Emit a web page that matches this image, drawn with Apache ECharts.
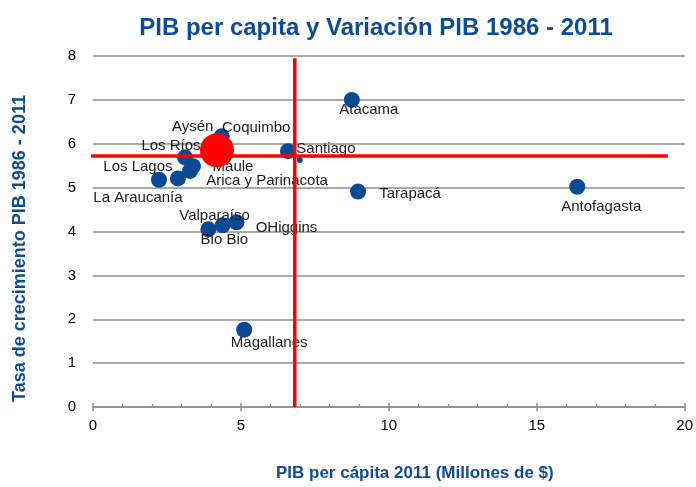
<!DOCTYPE html>
<html>
<head>
<meta charset="utf-8">
<script src="https://cdn.jsdelivr.net/npm/echarts@6/dist/echarts.min.js"></script>
<style>
  html, body { margin: 0; padding: 0; background: #fff; }
  #main { width: 696px; height: 487px; }
</style>
</head>
<body>
<div id="main"></div>
<script>
// regiones, PIB per cápita 2011 (millones de $) y crecimiento 1986-2011 (%)
const regiones = ['Atacama', 'Santiago', 'Aysén', 'Coquimbo', 'Los Ríos', 'Maule', 'Arica y Parinacota',
  'Los Lagos', 'La Araucanía', 'Tarapacá', 'Antofagasta', 'Bio Bio', 'Valparaíso', 'OHiggins', 'Magallanes'];
const pibPerCapita = [8.75, 6.59, 4.35, 4.4, 3.11, 3.38, 3.28, 2.87, 2.23, 8.96, 16.37, 3.9, 4.38, 4.85, 5.11];
const crecimiento = [7.0, 5.83, 6.17, 5.95, 5.69, 5.49, 5.38, 5.21, 5.18, 4.91, 5.02, 4.05, 4.14, 4.21, 1.76];

// punto país (rojo) y punto pequeño junto a Santiago
const pais = [4.19, 5.85];
const puntoChico = [6.99, 5.63];

// promedios (líneas rojas)
const promedioPib = 6.82;
const promedioCrec = 5.72;
const lineaHorizX = [-0.1, 19.43];
const lineaVertY = [0, 7.95];

// desplazamiento de cada etiqueta respecto del punto (px)
const labelOffsets = [[17, 10], [38, -2], [-29, -9], [33, -18], [-14, -11], [40, 1], [77, 10],
  [-40, -12], [-21, 18], [52, 2], [24, 20], [16, 11], [-8, -9], [50, 6], [25, 13]];

const azul = '#0a4a94';
const rojo = '#ff0000';

const puntos = regiones.map((r, i) => ({
  name: r,
  value: [pibPerCapita[i], crecimiento[i]],
  label: { offset: labelOffsets[i] }
}));

const option = {
  animation: false,
  backgroundColor: '#fff',
  textStyle: { fontFamily: 'Liberation Sans, Arial, sans-serif' },
  title: {
    text: 'PIB per capita y Variación PIB 1986 - 2011',
    left: 371,
    top: 11,
    textAlign: 'center',
    textStyle: { color: '#0d4b95', fontSize: 24, fontWeight: 'bold', fontFamily: 'Liberation Sans, Arial, sans-serif' }
  },
  grid: { left: 93, right: 11, top: 56, bottom: 77 },
  xAxis: [{
    type: 'value', min: 0, max: 20, interval: 5,
    name: 'PIB per cápita 2011 (Millones de $)',
    nameLocation: 'middle', nameGap: 58,
    nameTextStyle: { color: '#0d4b95', fontSize: 17, fontWeight: 'bold', padding: [0, 0, 0, 52] },
    axisLine: { lineStyle: { color: '#8c8c8c', width: 1.5 } },
    axisTick: { show: true, inside: true, length: 4, lineStyle: { color: '#8c8c8c', width: 1.5 } },
    minorTick: { show: true, splitNumber: 5, length: 3, lineStyle: { color: '#8c8c8c', width: 1.2 } },
    axisLabel: { color: '#000', fontSize: 15, margin: 11 },
    splitLine: { show: false }
  }, {
    type: 'value', min: 0, max: 20, interval: 5, position: 'bottom',
    axisLine: { show: false },
    axisTick: { show: true, length: 4, lineStyle: { color: '#8c8c8c', width: 1.5 } },
    axisLabel: { show: false },
    splitLine: { show: false }
  }],
  yAxis: {
    type: 'value', min: 0, max: 8, interval: 1,
    name: 'Tasa de crecimiento PIB 1986 - 2011',
    nameLocation: 'middle', nameGap: 64,
    nameTextStyle: { color: '#0d4b95', fontSize: 18, fontWeight: 'bold', padding: [0, 34, 0, 0] },
    axisLine: { show: false },
    axisTick: { show: false },
    axisLabel: { color: '#000', fontSize: 15, margin: 17 },
    splitLine: { lineStyle: { color: '#8c8c8c', width: 1.5 } }
  },
  series: [
    {
      type: 'scatter',
      z: 2,
      symbolSize: 16,
      itemStyle: { color: azul, opacity: 1 },
      label: {
        show: true, position: 'inside', formatter: '{b}',
        color: '#1a1a1a', fontSize: 15
      },
      data: puntos
    },
    {
      type: 'scatter',
      z: 2,
      symbolSize: 6,
      itemStyle: { color: azul, opacity: 1 },
      data: [puntoChico]
    },
    {
      type: 'scatter',
      z: 3,
      symbolSize: 34,
      itemStyle: { color: rojo, opacity: 1 },
      data: [pais]
    },
    {
      type: 'line', z: 5, silent: true, clip: false, showSymbol: false,
      lineStyle: { color: rojo, width: 3.5 },
      data: lineaHorizX.map(x => [x, promedioCrec])
    },
    {
      type: 'line', z: 5, silent: true, clip: false, showSymbol: false,
      lineStyle: { color: rojo, width: 3.5 },
      data: lineaVertY.map(y => [promedioPib, y])
    }
  ]
};

const chart = echarts.init(document.getElementById('main'), null, { renderer: 'canvas' });
chart.setOption(option);
</script>
</body>
</html>
